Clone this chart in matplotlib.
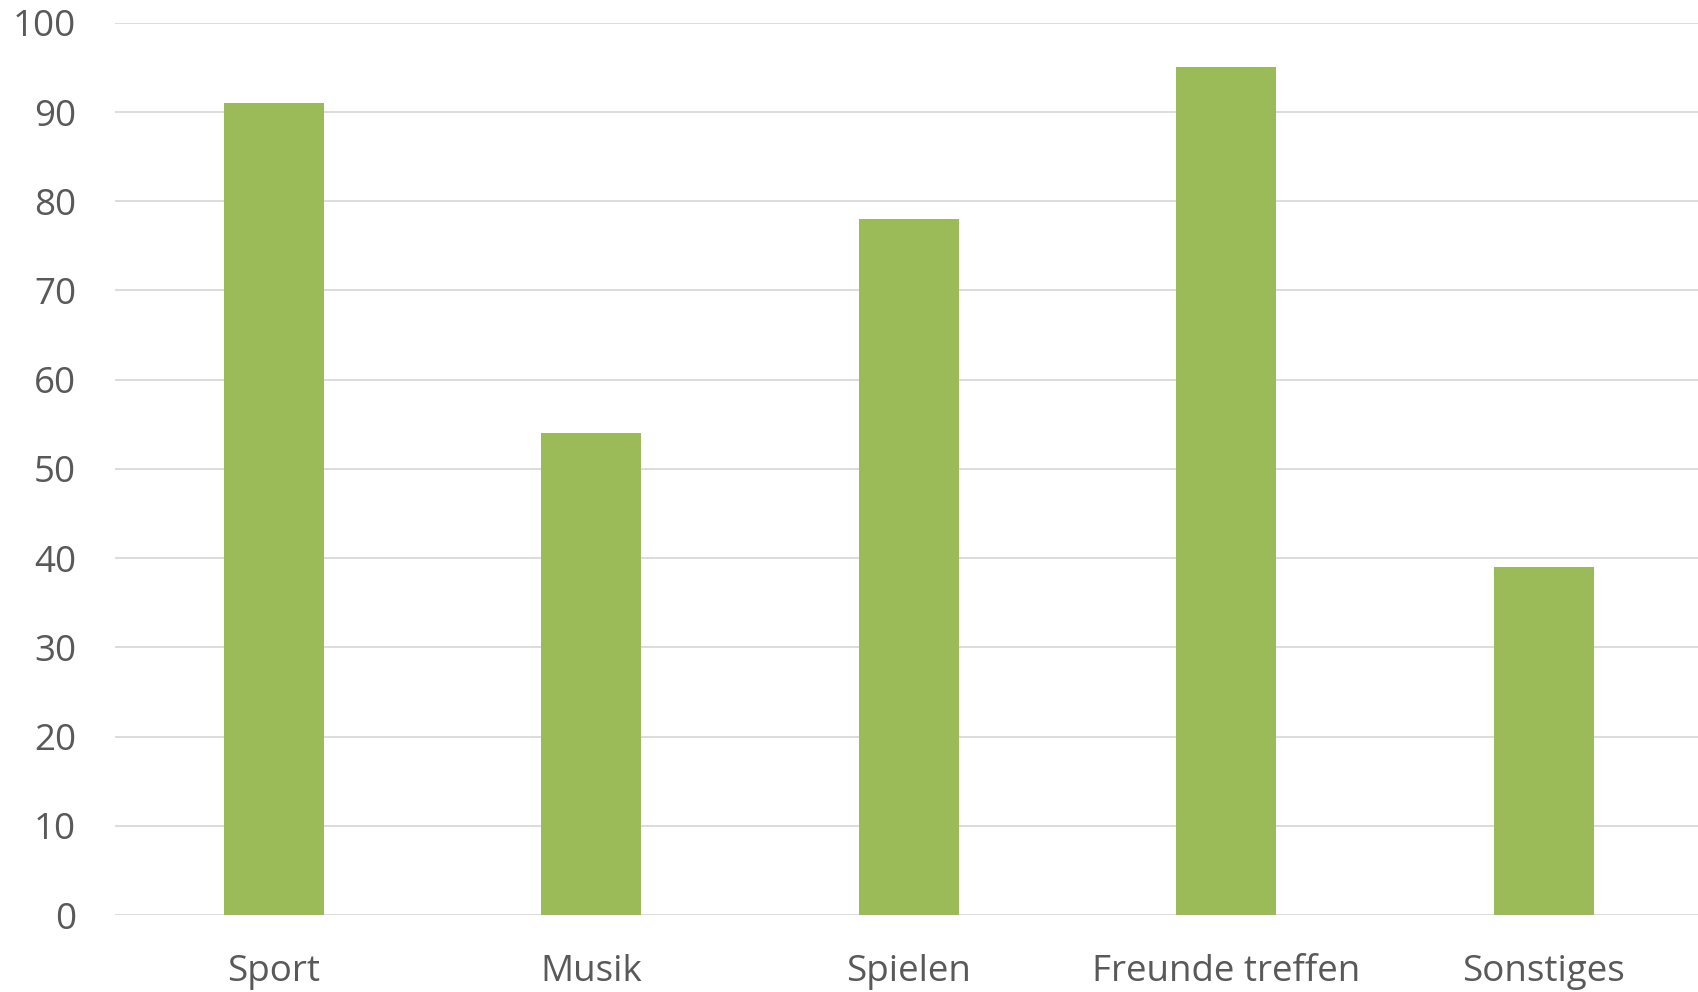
import matplotlib.pyplot as plt
import numpy as np

categories = ['Sport', 'Musik', 'Spielen', 'Freunde treffen', 'Sonstiges']
values = [91, 54, 78, 95, 39]
yticks = [0, 10, 20, 30, 40, 50, 60, 70, 80, 90, 100]

plt.rcParams['font.family'] = ['Open Sans', 'DejaVu Sans']

fig = plt.figure(figsize=(16.98, 9.92), dpi=100)
ax = fig.add_axes([0.0677, 0.0776, 0.935, 0.8994])

x = np.arange(len(categories))
ax.bar(x, values, width=0.314, color='#9BBB59', zorder=3)

ax.set_xlim(-0.5, len(categories) - 0.5)
ax.set_ylim(0, 100)
ax.set_yticks(yticks)
ax.set_xticks(x)
ax.set_xticklabels(categories)

ax.grid(True, axis='y', color='#d9d9d9', linewidth=1.3, zorder=0)
for s in ax.spines.values():
    s.set_visible(False)
ax.tick_params(axis='both', length=0, labelcolor='#595959')
ax.tick_params(axis='y', pad=28, labelsize=26.5)
ax.tick_params(axis='x', pad=28, labelsize=26.5)

fig.savefig('out.png', dpi=100)
